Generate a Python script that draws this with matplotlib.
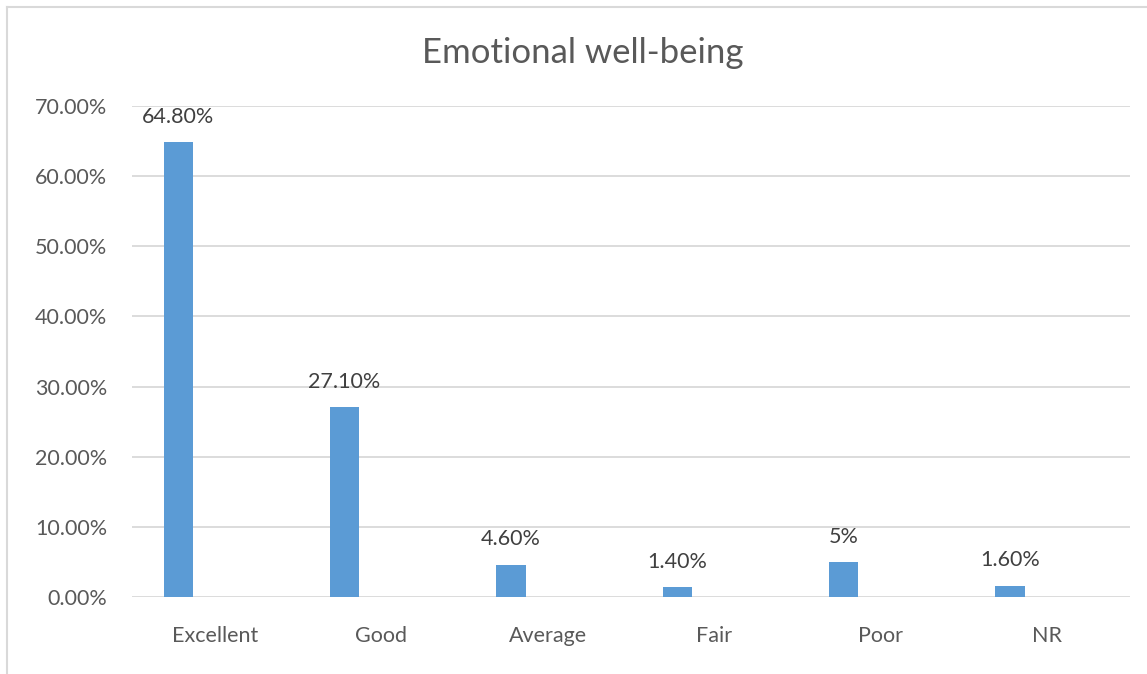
import matplotlib
matplotlib.use("Agg")
import matplotlib.pyplot as plt
from matplotlib.lines import Line2D
from matplotlib.ticker import FuncFormatter
import numpy as np

categories = ["Excellent", "Good", "Average", "Fair", "Poor", "NR"]
values = [0.648, 0.271, 0.046, 0.014, 0.05, 0.016]
value_labels = ["64.80%", "27.10%", "4.60%", "1.40%", "5%", "1.60%"]
y_ticks = [0.0, 0.1, 0.2, 0.3, 0.4, 0.5, 0.6, 0.7]

W, H = 1147, 674
fig = plt.figure(figsize=(W / 100, H / 100), dpi=100)
plt.rcParams["font.family"] = ["Lato", "DejaVu Sans"]

ax = fig.add_axes([132 / W, 1 - 597 / H, (1130 - 132) / W, (597 - 106) / H])

x = np.arange(len(categories))
offset = -0.222
bar_w = 0.176
bars = ax.bar(x + offset, values, width=bar_w, color="#5B9BD5", zorder=3)

for xi, v, lab in zip(x, values, value_labels):
    ax.annotate(lab, (xi + offset, v), xytext=(0, 11), textcoords="offset points",
                ha="center", va="bottom", fontsize=15.5, color="#404040",
                annotation_clip=False)

ax.set_xlim(-0.5, len(categories) - 0.5)
ax.set_ylim(0, 0.70)
ax.set_yticks(y_ticks)
ax.yaxis.set_major_formatter(FuncFormatter(lambda v, p: f"{v * 100:.2f}%"))
ax.set_xticks(x)
ax.set_xticklabels(categories)
ax.tick_params(axis="y", length=0, pad=18, labelsize=15.5, labelcolor="#595959")
ax.tick_params(axis="x", length=0, pad=21, labelsize=15.5, labelcolor="#595959")
ax.grid(axis="y", color="#d9d9d9", linewidth=1.3, zorder=0)
for s in ax.spines.values():
    s.set_visible(False)

fig.text(583 / W, 1 - 53 / H, "Emotional well-being", ha="center", va="center",
         fontsize=25, color="#595959")

# chart frame: top and left edges
fig.add_artist(Line2D([7 / W, 1.0], [1 - 7 / H, 1 - 7 / H], color="#d9d9d9", lw=1.5))
fig.add_artist(Line2D([7 / W, 7 / W], [0.0, 1 - 7 / H], color="#d9d9d9", lw=1.5))

fig.savefig("out.png", dpi=100, facecolor="white")
